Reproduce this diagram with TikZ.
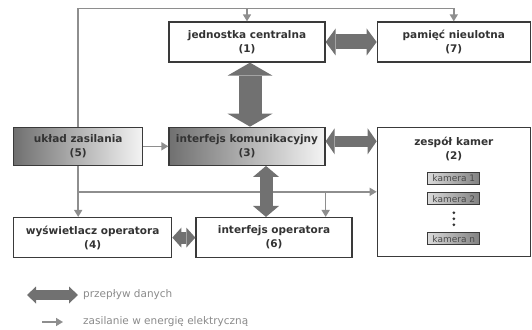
\documentclass[tikz,border=0pt]{standalone}
\usepackage{fontspec}
\setmainfont{DejaVu Sans}
\usetikzlibrary{arrows.meta,positioning}

\definecolor{boxline}{HTML}{3A3A3A}
\definecolor{txtc}{HTML}{333333}
\definecolor{gradL}{HTML}{707070}
\definecolor{gradR}{HTML}{F4F4F4}
\definecolor{camL}{HTML}{D9D9D9}
\definecolor{camR}{HTML}{808080}
\definecolor{camtxt}{HTML}{4A4A4A}
\definecolor{powerc}{HTML}{8E8E8E}
\definecolor{flowc}{HTML}{717171}
\definecolor{legtxt}{HTML}{8A8A8A}

\begin{document}
\begin{tikzpicture}[
  x=1pt, y=1pt,
  >=Latex,
  box/.style={rectangle, draw=boxline, line width=1.3pt, fill=white, align=center, text=txtc, font=\fontsize{10.5}{14}\selectfont\bfseries, minimum width=156pt, minimum height=40pt, inner sep=1pt},
  shadebox/.style={box, minimum height=38pt, left color=gradL, right color=gradR},
  cam/.style={rectangle, draw=boxline, line width=0.8pt, left color=camL, right color=camR, text=camtxt, font=\fontsize{9}{10}\selectfont, minimum width=52pt, minimum height=12pt, inner sep=0pt},
  power/.style={draw=powerc, line width=1.5pt, -{Triangle[length=7pt,width=8pt]}},
  flow/.style n args={3}{draw=flowc, line width=#1, {Triangle[width=#2,length=#3,line width=0pt]}-{Triangle[width=#2,length=#3,line width=0pt]}},
  legend/.style={text=legtxt, font=\fontsize{10.5}{13}\selectfont, anchor=west, inner sep=0pt}
]
\useasboundingbox (0,0) rectangle (532,-329);

\node[box] (jc) at (247,-42) {jednostka centralna\\(1)};
\node[box, minimum width=153pt, right=51pt of jc] (pam) {pamięć nieulotna\\(7)};
\node[shadebox, below=64pt of jc] (int) {interfejs komunikacyjny\\(3)};
\node[shadebox, minimum width=129pt, left=25pt of int] (zas) {układ zasilania\\(5)};
\node[box, minimum width=153pt, minimum height=129pt, right=51pt of int.north east, anchor=north west] (kam) {};
\node[box, minimum width=158pt, below=51pt of zas.south west, anchor=north west] (wys) {wyświetlacz operatora\\(4)};
\node[box, right=23pt of wys] (ops) {interfejs operatora\\(6)};

% zespol kamer
\node[text=txtc, font=\fontsize{10.5}{14}\selectfont\bfseries, align=center, inner sep=0pt, below=10pt of kam.north] (kamtitle) {zespół kamer\\(2)};
\node[cam, below=45.5pt of kam.north] (k1) {kamera 1};
\node[cam, below=7.5pt of k1] (k2) {kamera 2};
\node[cam, below=27pt of k2] (kn) {kamera n};
\foreach \d in {7.5,13.5,19.5}
  \fill[txtc] ([yshift=-\d pt]k2.south) circle (1.5pt);

% zasilanie
\draw[power] (zas.north) |- ([yshift=13pt]pam.north) -- (pam.north);
\draw[power] ([yshift=13pt]jc.north) -- (jc.north);
\draw[power] (zas.east) -- (int.west);
\draw[power] (zas.south) -- (zas.south |- wys.north);
\coordinate (split) at (zas.south |- kam.west);
\draw[power] (split) -- (kam.west);
\draw[power] (int.east |- split) -- (int.east |- ops.north);

% przeplyw danych
\draw[flow={15pt}{27pt}{10pt}] (jc) -- (pam);
\draw[flow={23pt}{45pt}{13pt}] ([xshift=3pt]jc.south) -- ([xshift=3pt]int.north);
\draw[flow={11pt}{26pt}{9pt}] ([yshift=5pt]int.east) -- ([yshift=5pt]int.east -| kam.west);
\draw[flow={13pt}{26pt}{11pt}] ([xshift=19pt]int.south) -- ([xshift=19pt]int.south |- ops.north);
\draw[flow={12pt}{20pt}{9pt}] (wys) -- (ops);

% legenda
\coordinate (fl1) at (27,-295);
\coordinate (fl2) at (78,-295);
\draw[flow={10pt}{17pt}{9pt}] (fl1) -- (fl2);
\node[legend] (flowtxt) at (83,-295) {przepływ danych};
\coordinate (pw1) at (42,-322);
\coordinate (pw2) at (63,-322);
\draw[power] (pw1) -- (pw2);
\node[legend] (powtxt) at (83,-322) {zasilanie w energię elektryczną};

\end{tikzpicture}
\end{document}
